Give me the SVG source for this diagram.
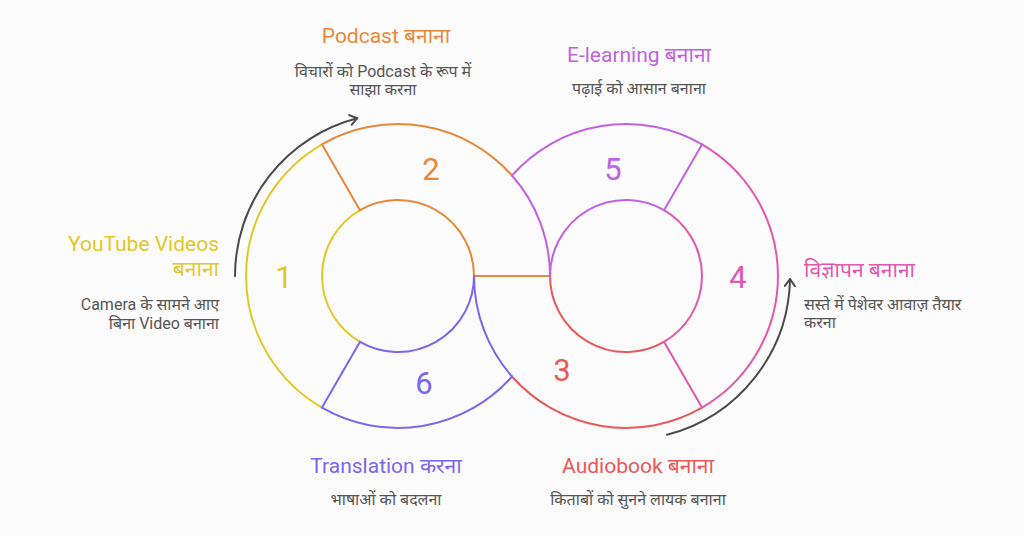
<svg xmlns="http://www.w3.org/2000/svg" width="1024" height="536" viewBox="0 0 1024 536">
<style>
.seg{fill:none;stroke-width:2;stroke-linecap:round}
.y{stroke:#e2c827}.o{stroke:#e8893a}.p{stroke:#c062e2}.k{stroke:#e058ae}.r{stroke:#ea5858}.b{stroke:#7b66ee}
.num{font-family:Roboto,"Noto Sans",sans-serif;font-size:31px;text-anchor:middle}
.t{font-family:Roboto,"Noto Sans","Noto Sans Devanagari",sans-serif;font-size:21px}
.d{font-family:Roboto,"Noto Sans","Noto Sans Devanagari",sans-serif;font-size:16px;fill:#555}
.arr{fill:none;stroke:#4a4a4a;stroke-width:2;stroke-linecap:round}
</style>
<defs>
<marker id="ah" viewBox="0 0 12 12" refX="10" refY="6" markerWidth="12" markerHeight="12" markerUnits="userSpaceOnUse" orient="auto">
<path d="M3,1 L10,6 L3,11" fill="none" stroke="#4a4a4a" stroke-width="2" stroke-linecap="round" stroke-linejoin="round"/>
</marker>
</defs>
<rect width="1024" height="536" fill="#fbfbfb"/>
<g id="connectors">
<path class="arr" d="M235,276 A163,163 0 0 1 357.2,118.2" marker-end="url(#ah)"/>
<path class="arr" d="M667,434.8 A164,164 0 0 0 790,279" marker-end="url(#ah)"/>
</g>
<g id="seg1">
<path class="seg y" d="M322,144.4 A152,152 0 0 0 322,407.6"/>
<path class="seg y" d="M360,210.2 A76,76 0 0 0 360,341.8"/>
<text class="num" x="284" y="288" fill="#e2c827">1</text>
</g>
<g id="seg3">
<path class="seg r" d="M702,407.6 A152,152 0 0 1 512,376.5"/>
<path class="seg r" d="M664,341.8 A76,76 0 0 1 550,276"/>
<text class="num" x="562" y="381" fill="#ea5858">3</text>
</g>
<g id="seg4">
<path class="seg k" d="M702,144.4 A152,152 0 0 1 702,407.6"/>
<path class="seg k" d="M664,210.2 A76,76 0 0 1 664,341.8"/>
<path class="seg k" d="M702,407.6 L664,341.8"/>
<text class="num" x="738" y="288" fill="#e058ae">4</text>
</g>
<g id="seg2">
<path class="seg o" d="M322,144.4 L360,210.2"/>
<path class="seg o" d="M322,144.4 A152,152 0 0 1 512,175.5"/>
<path class="seg o" d="M360,210.2 A76,76 0 0 1 474,276"/>
<path class="seg o" d="M474,276 L550,276"/>
<text class="num" x="431" y="180" fill="#e8893a">2</text>
</g>
<g id="seg5">
<path class="seg p" d="M512,175.5 A152,152 0 0 1 702,144.4"/>
<path class="seg p" d="M702,144.4 L664,210.2"/>
<path class="seg p" d="M664,210.2 A76,76 0 0 0 550,276"/>
<path class="seg p" d="M550,276 A152,152 0 0 0 512,175.5"/>
<text class="num" x="613" y="180" fill="#c062e2">5</text>
</g>
<g id="seg6">
<path class="seg b" d="M322,407.6 L360,341.8"/>
<path class="seg b" d="M360,341.8 A76,76 0 0 0 474,276"/>
<path class="seg b" d="M474,276 A152,152 0 0 0 512,376.5"/>
<path class="seg b" d="M512,376.5 A152,152 0 0 1 322,407.6"/>
<text class="num" x="424" y="394" fill="#7b66ee">6</text>
</g>
<g id="label1">
<text class="t" x="219" y="251" text-anchor="end" fill="#e2c827">YouTube Videos</text>
<text class="t" x="219" y="276" text-anchor="end" fill="#e2c827">बनाना</text>
<text class="d" x="219" y="310" text-anchor="end">Camera के सामने आए</text>
<text class="d" x="219" y="329" text-anchor="end">बिना Video बनाना</text>
</g>
<g id="label2">
<text class="t" x="386" y="43" text-anchor="middle" fill="#e8893a">Podcast बनाना</text>
<text class="d" x="383" y="77" text-anchor="middle">विचारों को Podcast के रूप में</text>
<text class="d" x="383" y="95" text-anchor="middle">साझा करना</text>
</g>
<g id="label5">
<text class="t" x="639" y="62" text-anchor="middle" fill="#c062e2">E-learning बनाना</text>
<text class="d" x="639" y="94" text-anchor="middle">पढ़ाई को आसान बनाना</text>
</g>
<g id="label4">
<text class="t" x="804" y="277" fill="#e058ae">विज्ञापन बनाना</text>
<text class="d" x="804" y="310">सस्ते में पेशेवर आवाज़ तैयार</text>
<text class="d" x="804" y="328">करना</text>
</g>
<g id="label6">
<text class="t" x="386" y="473" text-anchor="middle" fill="#7b66ee">Translation करना</text>
<text class="d" x="386" y="505" text-anchor="middle">भाषाओं को बदलना</text>
</g>
<g id="label3">
<text class="t" x="638" y="473" text-anchor="middle" fill="#ea5858">Audiobook बनाना</text>
<text class="d" x="638" y="505" text-anchor="middle">किताबों को सुनने लायक बनाना</text>
</g>
</svg>
